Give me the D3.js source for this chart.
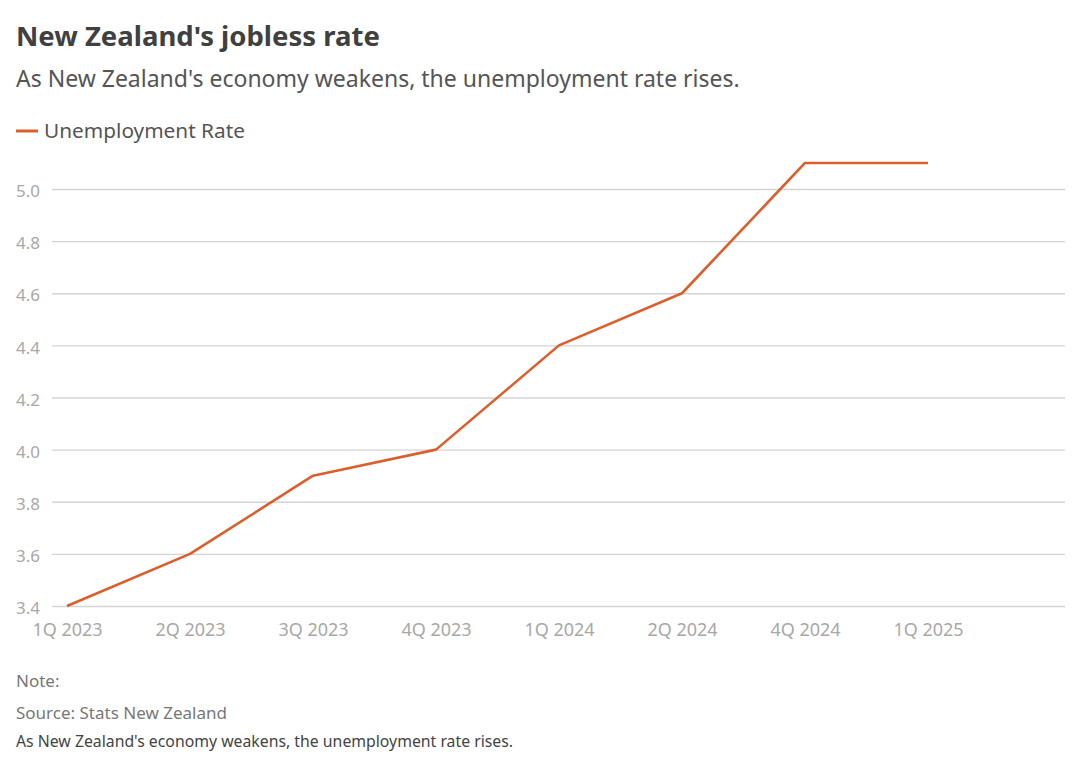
<!DOCTYPE html>
<html>
<head>
<meta charset="utf-8">
<script src="https://cdn.jsdelivr.net/npm/d3@7"></script>
<style>
  body { margin: 0; background: #fff; }
  svg text { font-family: "Noto Sans", Lato, sans-serif; }
  .grid line { stroke: #d4d4d4; stroke-width: 1.3; }
  .grid path { display: none; }
  .axis path, .axis line { display: none; }
  .axis text { fill: #a8a8a8; font-size: 17px; }
  .xaxis text { font-size: 18px; }
</style>
</head>
<body>
<svg class="chart" width="1080" height="768"></svg>
<script>
let width = 1080;
let height = 768;

const quarters = ["1Q 2023", "2Q 2023", "3Q 2023", "4Q 2023", "1Q 2024", "2Q 2024", "4Q 2024", "1Q 2025"];
const unemployment = [3.4, 3.6, 3.9, 4.0, 4.4, 4.6, 5.1, 5.1];
const yTicks = [3.4, 3.6, 3.8, 4.0, 4.2, 4.4, 4.6, 4.8, 5.0];

const title = "New Zealand's jobless rate";
const subtitle = "As New Zealand's economy weakens, the unemployment rate rises.";
const seriesName = "Unemployment Rate";
const note = "Note:";
const source = "Source: Stats New Zealand";
const caption = "As New Zealand's economy weakens, the unemployment rate rises.";

const lineColor = "#dc5f2b";

const svg = d3.select(".chart");

// titles
svg.append("text").attr("x", 16).attr("y", 46)
    .attr("font-size", 27.5).attr("font-weight", 700).attr("fill", "#404040")
    .text(title);
svg.append("text").attr("x", 16).attr("y", 87)
    .attr("font-size", 23).attr("fill", "#555")
    .text(subtitle);

// legend
svg.append("line").attr("x1", 16).attr("x2", 38).attr("y1", 131).attr("y2", 131)
    .attr("stroke", lineColor).attr("stroke-width", 3);
svg.append("text").attr("x", 44).attr("y", 138)
    .attr("font-size", 20.8).attr("fill", "#555")
    .text(seriesName);

// scales
const xScale = d3.scalePoint()
    .domain(quarters)
    .range([67, 928]);

const yScale = d3.scaleLinear()
    .domain([3.4, 5.0])
    .range([606, 189]);

// y grid
const yGrid = d3.axisLeft(yScale)
    .tickValues(yTicks)
    .tickSize(-(1065 - 52))
    .tickFormat("");
svg.append("g")
    .attr("class", "grid")
    .attr("transform", "translate(52,0)")
    .call(yGrid);

// y axis labels
const yAxis = d3.axisLeft(yScale)
    .tickValues(yTicks)
    .tickSize(0)
    .tickPadding(0)
    .tickFormat(d3.format(".1f"));
svg.append("g")
    .attr("class", "axis")
    .attr("transform", "translate(16,0)")
    .call(yAxis)
    .selectAll("text")
    .attr("text-anchor", "start")
    .attr("dy", "0.45em");

// x axis
const xAxis = d3.axisBottom(xScale).tickSize(0).tickPadding(0);
svg.append("g")
    .attr("class", "axis xaxis")
    .attr("transform", "translate(0,622)")
    .call(xAxis)
    .selectAll("text")
    .attr("dy", "0.75em");

// line
const line = d3.line()
    .x((d, i) => xScale(quarters[i]))
    .y(d => yScale(d));

svg.append("path")
    .datum(unemployment)
    .attr("fill", "none")
    .attr("stroke", lineColor)
    .attr("stroke-width", 2.6)
    .attr("stroke-linejoin", "round")
    .attr("d", line);

// footer
svg.append("text").attr("x", 16).attr("y", 687)
    .attr("font-size", 17).attr("fill", "#777").text(note);
svg.append("text").attr("x", 16).attr("y", 719)
    .attr("font-size", 17).attr("fill", "#777").text(source);
svg.append("text").attr("x", 16).attr("y", 747)
    .attr("font-size", 15.8).attr("fill", "#444").text(caption);
</script>
</body>
</html>
